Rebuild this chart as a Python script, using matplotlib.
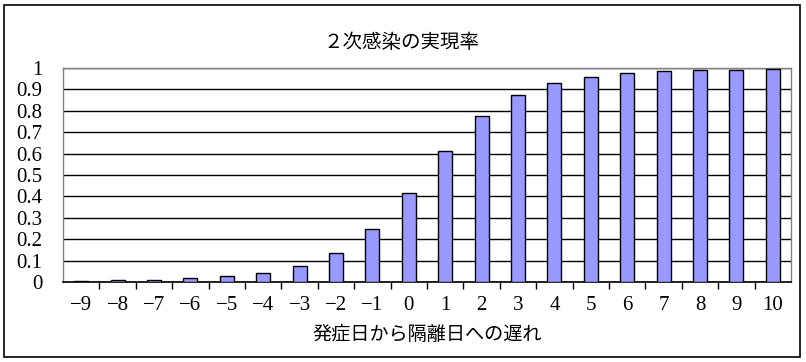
import matplotlib
matplotlib.use('Agg')
import matplotlib.pyplot as plt
from matplotlib.patches import Rectangle

# Delay from onset to isolation (days) and realised secondary infection rate.
delays = [-9, -8, -7, -6, -5, -4, -3, -2, -1, 0, 1, 2, 3, 4, 5, 6, 7, 8, 9, 10]
rates = [0.005, 0.008, 0.009, 0.018, 0.028, 0.043, 0.076, 0.137, 0.248, 0.416,
         0.613, 0.776, 0.874, 0.930, 0.958, 0.976, 0.986, 0.990, 0.990, 0.995]
y_ticks = [0, 0.1, 0.2, 0.3, 0.4, 0.5, 0.6, 0.7, 0.8, 0.9, 1]
y_labels = ['0', '0.1', '0.2', '0.3', '0.4', '0.5', '0.6', '0.7', '0.8', '0.9', '1']

title = '２次感染の実現率'
xlabel = '発症日から隔離日への遅れ'

plt.rcParams['font.family'] = ['Noto Sans CJK JP', 'DejaVu Sans']
num_font = ['Liberation Serif', 'DejaVu Serif']

fig = plt.figure(figsize=(8.06, 3.62), dpi=100)
W, H = 806, 362
ax = fig.add_axes([63 / W, (H - 282) / H, 728 / W, 214 / H])

pos = list(range(len(delays)))
ax.bar(pos, rates, width=0.39, color='#9999FF', edgecolor='black',
       linewidth=1.0, zorder=3)

ax.set_xlim(-0.5, len(delays) - 0.5)
ax.set_ylim(0, 1)
ax.set_yticks(y_ticks)
ax.set_yticklabels(y_labels, fontfamily=num_font, fontsize=15)
ax.yaxis.grid(True, color='black', linewidth=1.0, zorder=0)
ax.tick_params(axis='y', length=0, pad=15)

# category labels, tick marks between categories
ax.set_xticks(pos)
ax.set_xticklabels([str(d).replace('-', '\u2212') for d in delays],
                   fontfamily=num_font, fontsize=15)
ax.tick_params(axis='x', which='major', length=0, pad=10)
ax.set_xticks([p + 0.5 for p in pos[:-1]], minor=True)
ax.tick_params(axis='x', which='minor', length=5, width=1, direction='out',
               color='black')

for side in ['top', 'left', 'right']:
    ax.spines[side].set_color('#808080')
    ax.spines[side].set_linewidth(1.0)
ax.spines['bottom'].set_color('black')
ax.spines['bottom'].set_linewidth(1.2)

fig.text(402 / W, (H - 42) / H, title, ha='center', va='center', fontsize=14)
fig.text(427 / W, (H - 334) / H, xlabel, ha='center', va='center', fontsize=13.8)

# outer chart border
fig.patches.append(Rectangle((4 / W, 5 / H), 796 / W, 352 / H, fill=False,
                             edgecolor='black', linewidth=1.2,
                             transform=fig.transFigure, figure=fig))

fig.savefig('out.png', dpi=100)
